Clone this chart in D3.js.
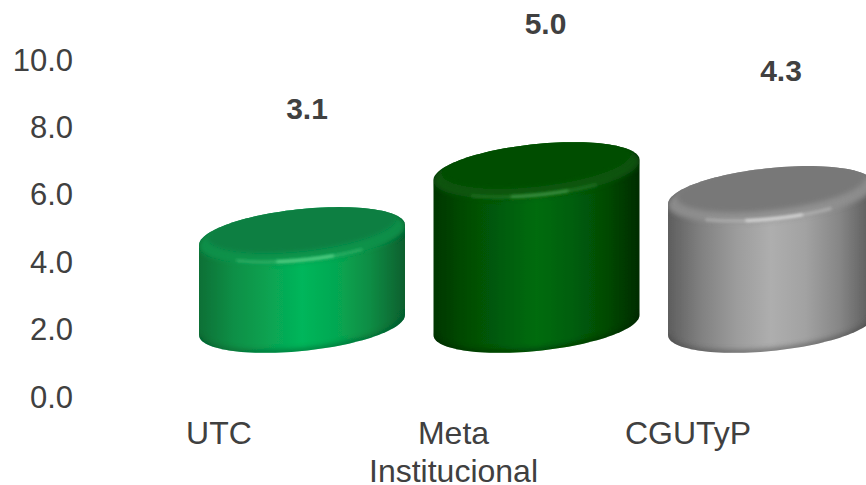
<!DOCTYPE html>
<html><head><meta charset="utf-8">
<script src="https://cdn.jsdelivr.net/npm/d3@7"></script>
<style>html,body{margin:0;padding:0;background:#fff;overflow:hidden}svg{display:block}text{font-family:"Liberation Sans",Arial,sans-serif;fill:#404040}</style>
</head><body><svg id="c" width="866" height="485"></svg>
<script>
const categories = [["UTC"], ["Meta", "Institucional"], ["CGUTyP"]];
const values = [3.1, 5.0, 4.3];
const yTicks = [0, 2, 4, 6, 8, 10];
const sideColors = [
  ["#0a7036", "#0c8f46", "#08a251", "#04b65b", "#06a852", "#0b8c44", "#075f2e"],
  ["#033604", "#044d05", "#055c08", "#066c0c", "#055f09", "#044b05", "#022c02"],
  ["#5e5e5e", "#828282", "#9c9c9c", "#aeaeae", "#a2a2a2", "#868686", "#585858"]
];
const capColors = ["#0a7f43", "#034d03", "#787878"];
const rimColors = ["#0d934b", "#08570b", "#909090"];
const glowColors = ["#6fe79b", "#4ea654", "#eeeeee"];
const lowColors = ["#05582a", "#022602", "#454545"];

const W = 866, H = 485;
const svg = d3.select("#c");
const defs = svg.append("defs");

const yAxis = d3.scaleLinear().domain([0, 10]).range([396, 59]);
const gAxis = svg.append("g").attr("transform", "translate(73,0)")
  .call(d3.axisLeft(yAxis).tickValues(yTicks).tickSize(0).tickPadding(0).tickFormat(d3.format(".1f")));
gAxis.select(".domain").remove();
gAxis.selectAll("text").attr("font-size", 31).style("font-family", '"Liberation Sans",Arial,sans-serif').attr("fill", "#404040").attr("dy", "0.36em");

const x = d3.scalePoint().domain(d3.range(values.length)).range([302, 771]);
const hScale = d3.scaleLinear().domain([0, 10]).range([-16, 326]);
const baseY = 325, a = 103, b = 26, k = 10;
const labelLift = [127, 147, 124];
const labelShift = [5, 9, 10];
const catShift = -83;

const pt = (cx, cy, t, ax = a, bx = b, kx = k) => [cx + ax * Math.cos(t), cy + bx * Math.sin(t) - kx * Math.cos(t)];
const line = d3.line();
const arc = (cx, cy, t0, t1, ax, bx, kx) => d3.range(0, 61).map(i => pt(cx, cy, t0 + (t1 - t0) * i / 60, ax, bx, kx));

const blur = (id, s) => defs.append("filter").attr("id", id).attr("filterUnits", "userSpaceOnUse")
  .attr("x", 0).attr("y", 0).attr("width", W + 40).attr("height", H)
  .append("feGaussianBlur").attr("stdDeviation", s);
blur("b0", 0.6); blur("b1", 1.5); blur("b2", 2.5);

values.forEach((v, i) => {
  const cx = x(i), topY = baseY - hScale(v);
  const g = svg.append("g").attr("filter", "url(#b0)");
  const grad = defs.append("linearGradient").attr("id", "side" + i);
  sideColors[i].forEach((c, j) => grad.append("stop").attr("offset", j / (sideColors[i].length - 1)).attr("stop-color", c));

  const sil = [...arc(cx, topY, Math.PI, 2 * Math.PI, a, b, k), ...arc(cx, baseY, 0, Math.PI, a, b, k)];
  const silD = line(sil) + "Z";
  defs.append("clipPath").attr("id", "clip" + i).append("path").attr("d", silD);
  g.append("path").attr("d", silD).attr("fill", `url(#side${i})`);

  const inner = g.append("g").attr("clip-path", `url(#clip${i})`);
  inner.append("path").attr("d", line(arc(cx, baseY, 0, Math.PI, a, b, k)))
    .attr("fill", "none").attr("stroke", lowColors[i]).attr("stroke-width", 6).attr("opacity", .5).attr("filter", "url(#b2)");
  inner.append("path").attr("d", line(arc(cx, topY + 1, 0, 2 * Math.PI, a, b, k)) + "Z")
    .attr("fill", rimColors[i]).attr("opacity", .9).attr("filter", "url(#b2)");
  inner.append("path").attr("d", line(arc(cx, topY - 7, 0, 2 * Math.PI, a * .92, b * .9, k)) + "Z")
    .attr("fill", capColors[i]).attr("filter", "url(#b2)");
  inner.append("path").attr("d", line(arc(cx, topY, Math.PI * .3, Math.PI * .72, a, b - 1, k)))
    .attr("fill", "none").attr("stroke", glowColors[i]).attr("stroke-width", 3).attr("opacity", .3).attr("filter", "url(#b1)");
  inner.append("path").attr("d", line(arc(cx, topY, Math.PI * .4, Math.PI * .58, a, b - 1, k)))
    .attr("fill", "none").attr("stroke", glowColors[i]).attr("stroke-width", 2.5).attr("opacity", .7).attr("filter", "url(#b1)");

  svg.append("text").attr("x", cx + labelShift[i]).attr("y", topY - labelLift[i])
    .attr("text-anchor", "middle").attr("dy", "0.36em").attr("font-size", 30).attr("font-weight", "bold").text(v.toFixed(1));

  const t = svg.append("text").attr("text-anchor", "middle").attr("font-size", 32);
  categories[i].forEach((s, j) => t.append("tspan").attr("x", cx + catShift).attr("y", 444 + j * 37.5).text(s));
});
</script></body></html>
